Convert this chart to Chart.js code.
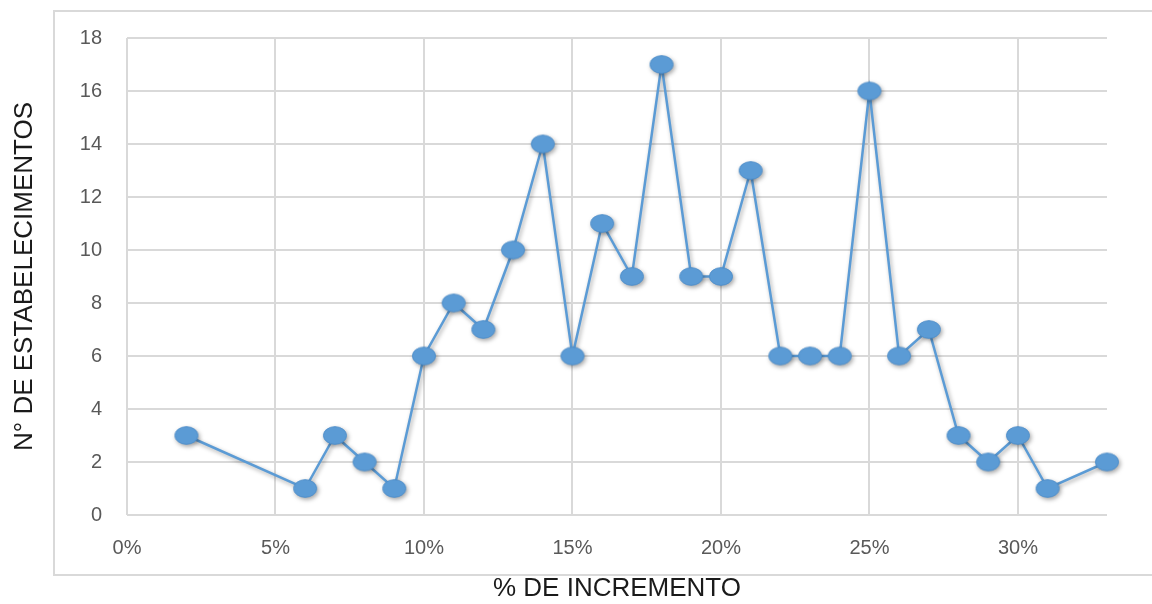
<!DOCTYPE html>
<html>
<head>
<meta charset="utf-8">
<script src="https://cdn.jsdelivr.net/npm/chart.js@4.4.1/dist/chart.umd.min.js"></script>
<style>
  html, body { margin: 0; padding: 0; background: #ffffff; }
  #wrap { width: 1152px; height: 604px; position: relative; }
</style>
</head>
<body>
<div id="wrap"><canvas id="chart" width="1152" height="604"></canvas></div>
<script>
// Percentage increase (x) and number of establishments (y)
const incrementos = [2, 6, 7, 8, 9, 10, 11, 12, 13, 14, 15, 16, 17, 18, 19, 20, 21, 22, 23, 24, 25, 26, 27, 28, 29, 30, 31, 33];
const establecimientos = [3, 1, 3, 2, 1, 6, 8, 7, 10, 14, 6, 11, 9, 17, 9, 9, 13, 6, 6, 6, 16, 6, 7, 3, 2, 3, 1, 2];
const xTicks = [0, 5, 10, 15, 20, 25, 30];
const yTicks = [0, 2, 4, 6, 8, 10, 12, 14, 16, 18];
const xTitle = '% DE INCREMENTO';
const yTitle = 'N\u00B0 DE ESTABELECIMENTOS';

const BLUE = '#5b9bd5';
const GRID = '#d9d9d9';
const FONT = 'Liberation Sans, Arial, sans-serif';

// Elliptical marker used for every point
function makeMarker() {
  const c = document.createElement('canvas');
  c.width = 26; c.height = 21;
  const g = c.getContext('2d');
  g.beginPath();
  g.ellipse(13, 10.5, 11.5, 8.8, 0, 0, Math.PI * 2);
  g.fillStyle = BLUE;
  g.fill();
  g.lineWidth = 1;
  g.strokeStyle = '#4f8fcb';
  g.stroke();
  return c;
}
const marker = makeMarker();

const points = incrementos.map((x, i) => ({ x: x, y: establecimientos[i] }));

// Light frame around the chart body and soft shadow under the series
const framePlugin = {
  id: 'frame',
  beforeDraw(chart) {
    const ctx = chart.ctx;
    ctx.save();
    ctx.strokeStyle = GRID;
    ctx.lineWidth = 2;
    ctx.strokeRect(54, 11, 1160, 564);
    ctx.restore();
  },
  beforeDatasetDraw(chart) {
    const ctx = chart.ctx;
    ctx.save();
    ctx.shadowColor = 'rgba(0,0,0,0.35)';
    ctx.shadowBlur = 4;
    ctx.shadowOffsetX = 1.5;
    ctx.shadowOffsetY = 2;
  },
  afterDatasetDraw(chart) {
    chart.ctx.restore();
  }
};

new Chart(document.getElementById('chart'), {
  type: 'line',
  data: {
    datasets: [{
      data: points,
      borderColor: BLUE,
      borderWidth: 2.5,
      pointStyle: marker,
      pointRadius: 11,
      pointHoverRadius: 11,
      tension: 0,
      fill: false,
      clip: false
    }]
  },
  plugins: [framePlugin],
  options: {
    responsive: false,
    animation: false,
    events: [],
    layout: { padding: { top: 38, right: 45, bottom: 0, left: 0 } },
    plugins: { legend: { display: false }, tooltip: { enabled: false } },
    scales: {
      x: {
        type: 'linear',
        min: 0,
        max: 33,
        afterBuildTicks(scale) { scale.ticks = xTicks.map(v => ({ value: v })); },
        afterFit(scale) { scale.height = 89; },
        ticks: {
          callback: v => v + '%',
          color: '#595959',
          font: { family: FONT, size: 20 },
          padding: 21,
          maxRotation: 0
        },
        grid: { color: GRID, lineWidth: 2, drawTicks: false },
        border: { display: false },
        title: {
          display: true,
          text: xTitle,
          color: '#1a1a1a',
          font: { family: FONT, size: 26 },
          padding: { top: 0, bottom: 0 }
        }
      },
      y: {
        min: 0,
        max: 18,
        afterBuildTicks(scale) { scale.ticks = yTicks.map(v => ({ value: v })); },
        afterFit(scale) { scale.width = 127; },
        ticks: {
          color: '#595959',
          font: { family: FONT, size: 20 },
          padding: 25
        },
        grid: { color: GRID, lineWidth: 2, drawTicks: false },
        border: { display: false },
        title: {
          display: true,
          text: yTitle,
          color: '#1a1a1a',
          font: { family: FONT, size: 26 },
          padding: { top: 9, bottom: 0 }
        }
      }
    }
  }
});
</script>
</body>
</html>
